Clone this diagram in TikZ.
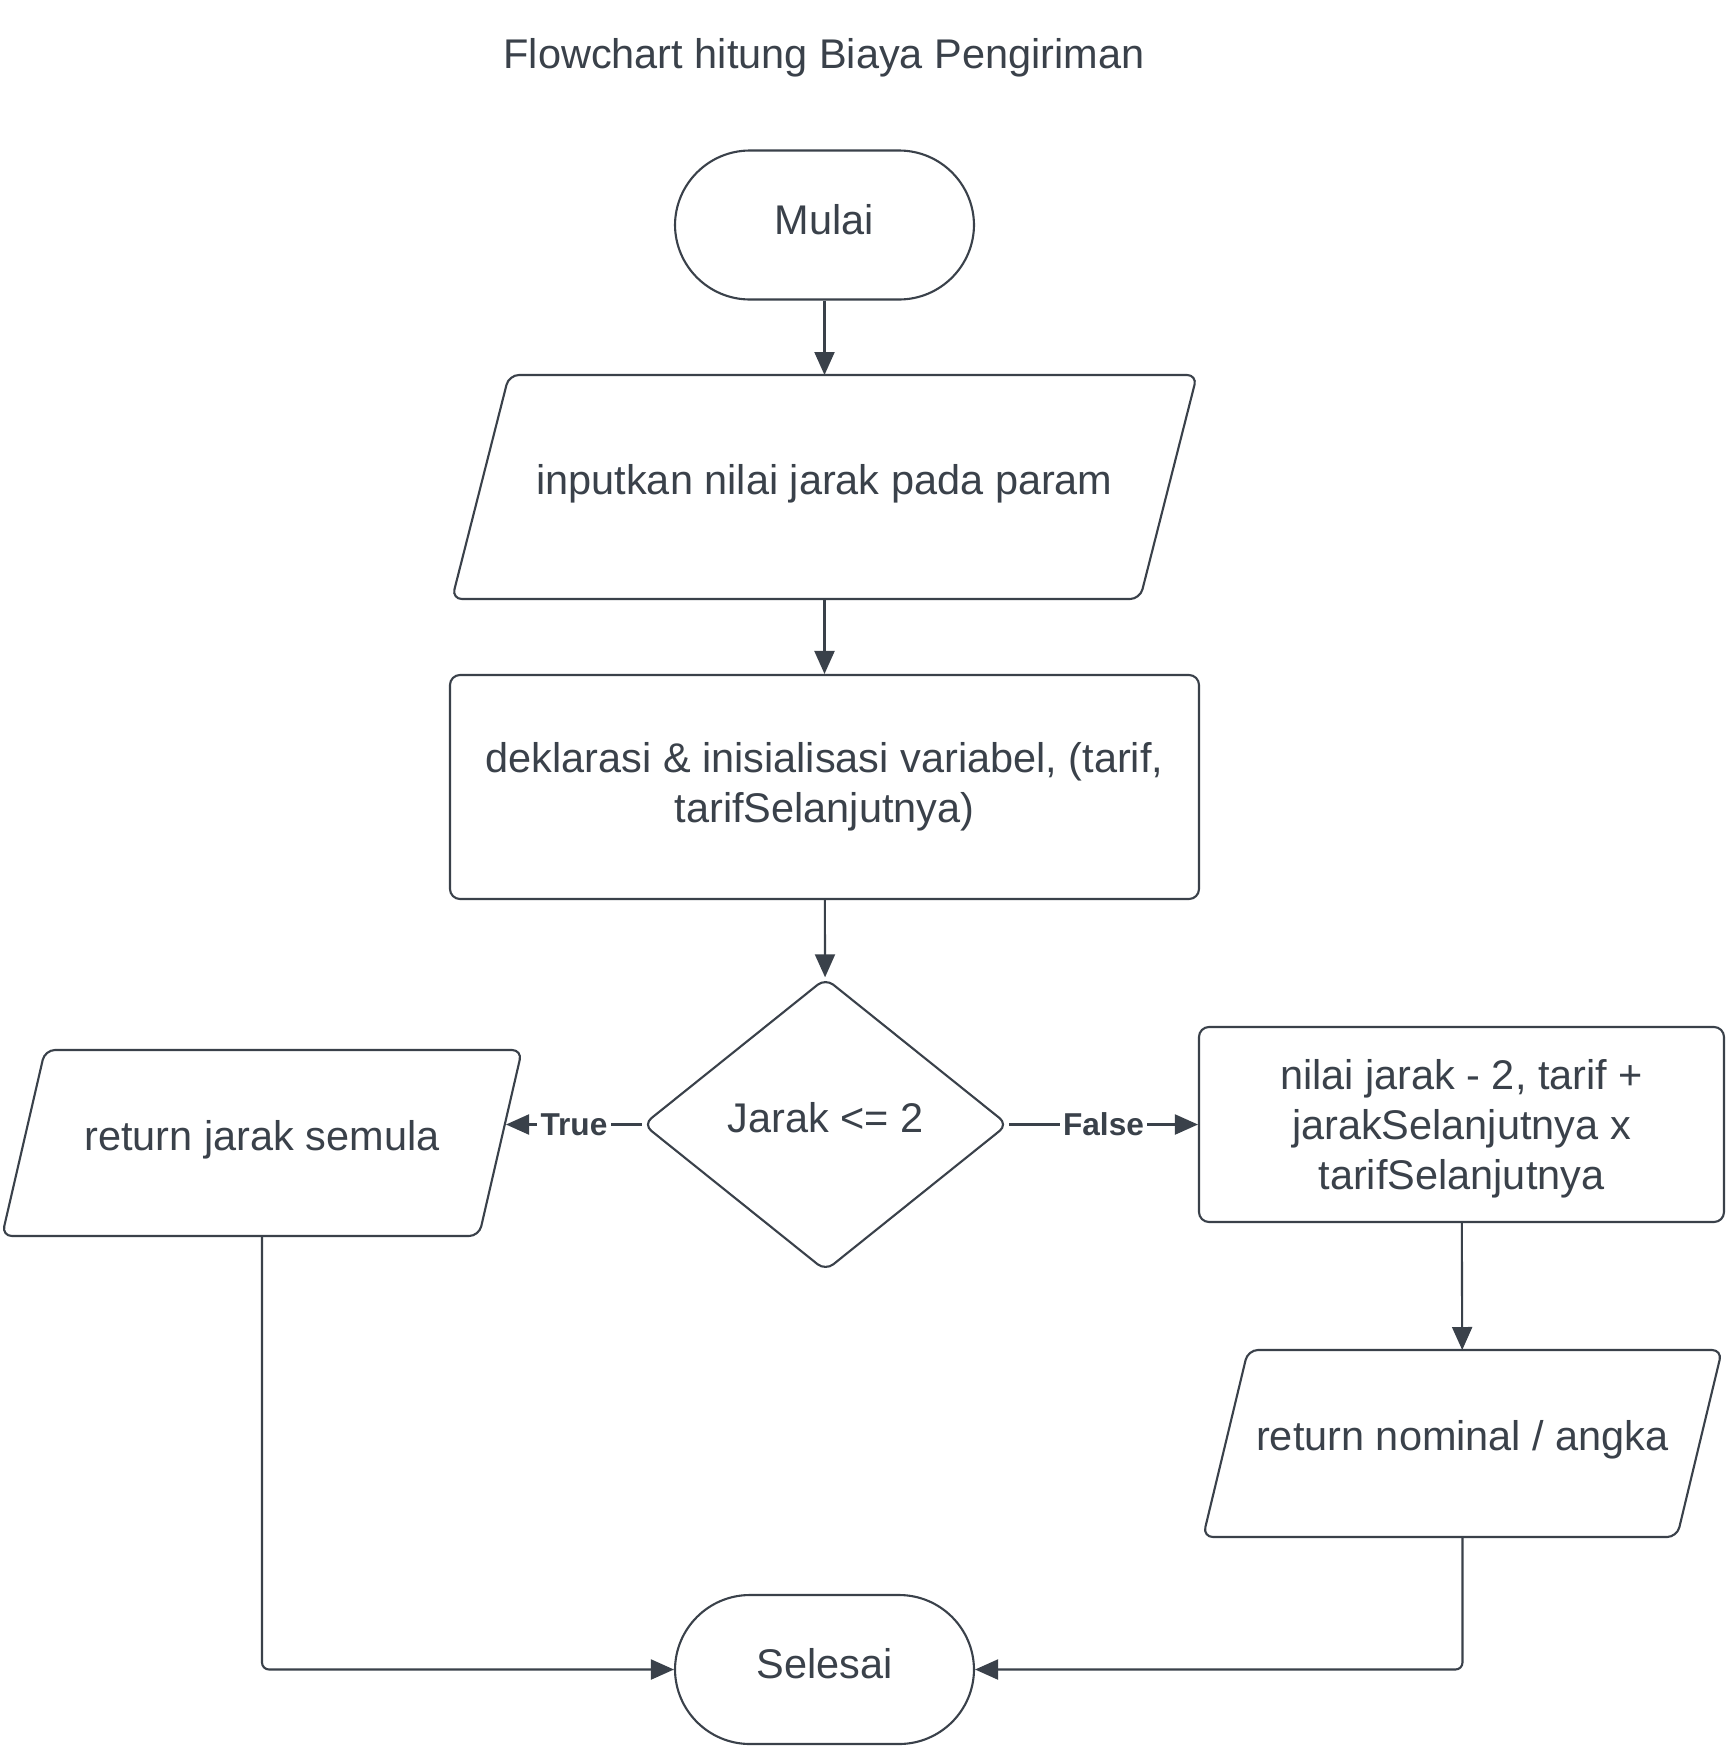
\documentclass[tikz,border=0pt]{standalone}
\usepackage{fontspec}
\setmainfont{Liberation Sans}
\usetikzlibrary{arrows.meta,positioning,shapes.geometric,calc}
\usepackage{xcolor}
\definecolor{lucid}{HTML}{3A414A}

\begin{document}
\begin{tikzpicture}[
    line width=0.6pt, draw=lucid, text=lucid,
    font=\fontsize{11.8}{14.2}\selectfont,
    term/.style={rectangle, draw, rounded corners=0.75cm, minimum width=2.99cm, minimum height=1.49cm, text depth=3.2pt},
    io/.style={rectangle, outer sep=0pt, align=center, text depth=4.5pt},
    proc/.style={rectangle, draw, rounded corners=0.1cm, align=center},
    cond/.style={diamond, draw, rounded corners=0.1cm, minimum width=3.65cm, minimum height=2.93cm, inner sep=0pt, text depth=4pt},
    arr/.style={-{Triangle[length=2.3mm, width=2mm]}, lucid},
    lbl/.style={font=\fontsize{9}{10}\selectfont\bfseries, fill=white, inner sep=1pt}
]
    \fill[white] (0,0) rectangle (17.25,-17.46);
    \useasboundingbox (0,0) rectangle (17.25,-17.46);

    \node (title) at (8.24,-0.58) {Flowchart hitung Biaya Pengiriman};

    \node[term] (mulai) at (8.245,-2.25) {Mulai};
    \node[io, minimum width=7.45cm, minimum height=2.24cm] (input) at (8.245,-4.87) {inputkan nilai jarak pada param};
    \node[proc, minimum width=7.49cm, minimum height=2.24cm] (deklarasi) at (8.245,-7.87) {deklarasi \& inisialisasi variabel, (tarif,\\tarifSelanjutnya)};
    \node[cond] (cek) at (8.255,-11.245) {Jarak <= 2};
    \node[io, minimum width=5.20cm, minimum height=1.86cm] (semula) at (2.62,-11.43) {return jarak semula};
    \node[proc, minimum width=5.25cm, minimum height=1.95cm, text depth=0pt] (hitung) at (14.615,-11.245) {nilai jarak - 2, tarif +\\jarakSelanjutnya x\\tarifSelanjutnya};
    \node[io, minimum width=5.19cm, minimum height=1.87cm] (nominal) at (14.625,-14.435) {return nominal / angka};
    \node[term] (selesai) at (8.245,-16.695) {Selesai};

    % parallelogram outlines for the input/output nodes
    \foreach \n/\s in {input/0.57, semula/0.43, nominal/0.45}
        \draw[rounded corners=0.1cm] ($(\n.north west)+(\s,0)$) -- (\n.north east)
            -- ($(\n.south east)-(\s,0)$) -- (\n.south west) -- cycle;
    \coordinate (truetip) at ($(cek.west -| semula.east)+(-0.16,0)$);

    \draw[arr] (mulai) -- (input);
    \draw[arr] (input) -- (deklarasi);
    \draw[arr] (deklarasi) -- (cek);
    \draw[arr] (cek.west) -- node[lbl]{True} (truetip);
    \draw[arr] (cek.east) -- node[lbl]{False} (hitung.west);
    \draw[arr] (hitung) -- (nominal);
    \draw[arr, rounded corners=2pt] (semula.south) |- (selesai.west);
    \draw[arr, rounded corners=2pt] (nominal.south) |- (selesai.east);
\end{tikzpicture}
\end{document}
